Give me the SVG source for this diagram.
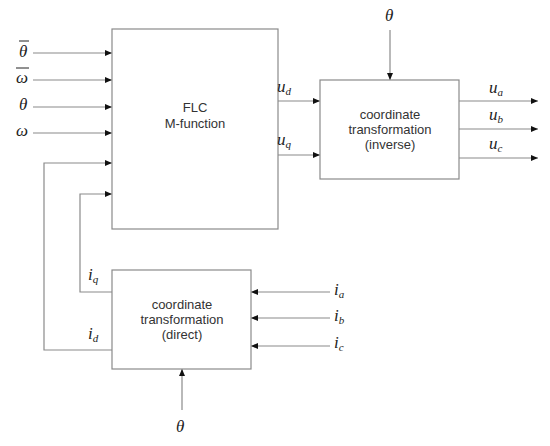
<svg xmlns="http://www.w3.org/2000/svg" width="550" height="446" viewBox="0 0 550 446">
<defs>
<marker id="ah" viewBox="0 0 7 6" refX="7" refY="3" markerWidth="7" markerHeight="6" orient="auto" markerUnits="userSpaceOnUse">
<path d="M0,0 L7,3 L0,6 z" fill="#111"/>
</marker>
</defs>
<style>
.box{fill:#fff;stroke:#8a8a8a;stroke-width:1.2}
.ln{fill:none;stroke:#8a8a8a;stroke-width:1.2}
.ar{fill:none;stroke:#8a8a8a;stroke-width:1.2;marker-end:url(#ah)}
.bt{font-family:"Liberation Sans",Arial,sans-serif;font-size:13px;fill:#333;text-anchor:middle}
.m{font-family:"Liberation Serif","DejaVu Serif",serif;font-style:italic;font-size:17px;fill:#222}
.s{font-size:11px}
</style>
<rect width="550" height="446" fill="#fff"/>
<g id="connectors">
<line class="ar" x1="33" y1="53" x2="112" y2="53"/>
<line class="ar" x1="33" y1="80" x2="112" y2="80"/>
<line class="ar" x1="33" y1="107" x2="112" y2="107"/>
<line class="ar" x1="33" y1="133" x2="112" y2="133"/>
<polyline class="ar" points="112,350 44,350 44,163 112,163"/>
<polyline class="ar" points="112,292 80,292 80,194 112,194"/>
<line class="ar" x1="278" y1="101" x2="320" y2="101"/>
<line class="ar" x1="278" y1="155" x2="320" y2="155"/>
<line class="ar" x1="390" y1="30" x2="390" y2="80"/>
<line class="ar" x1="459" y1="101" x2="538" y2="101"/>
<line class="ar" x1="459" y1="129" x2="538" y2="129"/>
<line class="ar" x1="459" y1="158" x2="538" y2="158"/>
<line class="ar" x1="330" y1="292" x2="251" y2="292"/>
<line class="ar" x1="330" y1="318" x2="251" y2="318"/>
<line class="ar" x1="330" y1="346" x2="251" y2="346"/>
<line class="ar" x1="182" y1="410" x2="182" y2="369"/>
</g>
<g id="flc">
<rect class="box" x="112" y="29" width="166" height="200"/>
<text class="bt" x="195" y="112">FLC</text>
<text class="bt" x="195" y="128">M-function</text>
</g>
<g id="inverse">
<rect class="box" x="320" y="80" width="139" height="99"/>
<text class="bt" x="390" y="119">coordinate</text>
<text class="bt" x="390" y="134">transformation</text>
<text class="bt" x="390" y="149">(inverse)</text>
</g>
<g id="direct">
<rect class="box" x="112" y="270" width="139" height="99"/>
<text class="bt" x="182" y="309">coordinate</text>
<text class="bt" x="182" y="324">transformation</text>
<text class="bt" x="182" y="339">(direct)</text>
</g>
<g id="labels">
<text class="m" x="19" y="57">θ</text>
<line x1="19" y1="41" x2="29" y2="41" stroke="#222" stroke-width="1"/>
<text class="m" x="16" y="83">ω</text>
<line x1="16" y1="68" x2="29" y2="68" stroke="#222" stroke-width="1"/>
<text class="m" x="19" y="110">θ</text>
<text class="m" x="16" y="136">ω</text>
<text class="m" x="277" y="92">u<tspan class="s" dy="3">d</tspan></text>
<text class="m" x="277" y="145">u<tspan class="s" dy="3">q</tspan></text>
<text class="m" x="385" y="21">θ</text>
<text class="m" x="489" y="93">u<tspan class="s" dy="3">a</tspan></text>
<text class="m" x="489" y="120">u<tspan class="s" dy="3">b</tspan></text>
<text class="m" x="489" y="149">u<tspan class="s" dy="3">c</tspan></text>
<text class="m" x="88" y="280">i<tspan class="s" dy="3">q</tspan></text>
<text class="m" x="88" y="339">i<tspan class="s" dy="3">d</tspan></text>
<text class="m" x="334" y="295">i<tspan class="s" dy="3">a</tspan></text>
<text class="m" x="334" y="321">i<tspan class="s" dy="3">b</tspan></text>
<text class="m" x="334" y="348">i<tspan class="s" dy="3">c</tspan></text>
<text class="m" x="176" y="432">θ</text>
</g>
</svg>
